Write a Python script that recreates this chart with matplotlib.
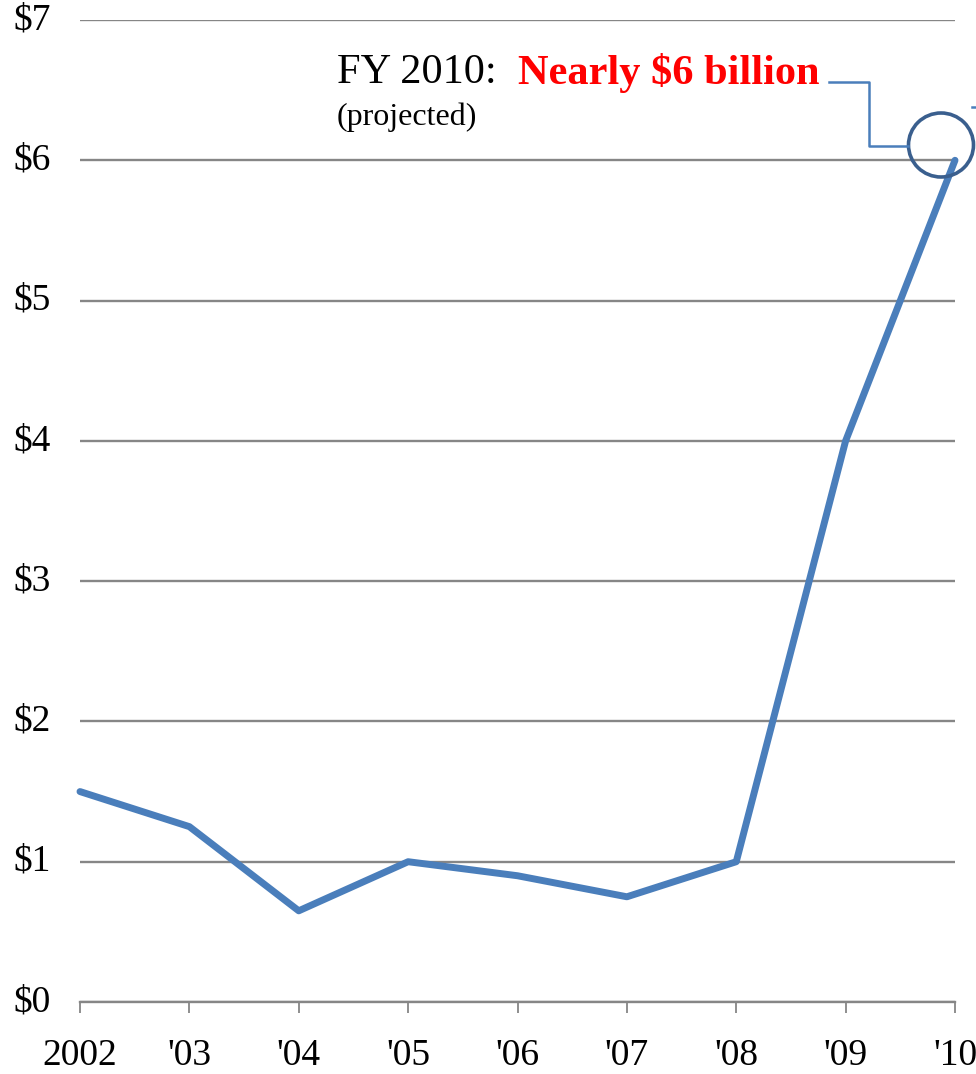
import matplotlib
matplotlib.use("Agg")
import matplotlib.pyplot as plt
from matplotlib.patches import Ellipse
from matplotlib.lines import Line2D

years = ["2002", "'03", "'04", "'05", "'06", "'07", "'08", "'09", "'10"]
values = [1.5, 1.25, 0.65, 1.0, 0.9, 0.75, 1.0, 4.0, 6.0]
ytick_vals = [0, 1, 2, 3, 4, 5, 6, 7]
ytick_labels = ["$0", "$1", "$2", "$3", "$4", "$5", "$6", "$7"]

W, H = 976, 1074
fig = plt.figure(figsize=(W / 100, H / 100), dpi=100)
plt.rcParams['font.family'] = ['Liberation Serif', 'DejaVu Serif']

def fx(x):
    return x / W

def fy(y):
    return 1 - y / H

ax = fig.add_axes([fx(80), fy(1002), fx(955) - fx(80), fy(20) - fy(1002)])
xs = list(range(len(years)))
ax.plot(xs, values, color="#4a7ebb", lw=5, solid_capstyle="round",
        solid_joinstyle="round", clip_on=False, zorder=3)
ax.set_xlim(0, len(years) - 1)
ax.set_ylim(0, 7)
ax.set_yticks(ytick_vals)
ax.set_yticklabels(ytick_labels)
ax.set_xticks(xs)
ax.set_xticklabels(years)
for s in ["top", "right", "left"]:
    ax.spines[s].set_visible(False)
ax.spines["bottom"].set_color("#868686")
ax.spines["bottom"].set_linewidth(1.7)
ax.grid(axis="y", color="#868686", lw=1.7)
ax.set_axisbelow(True)
ax.tick_params(axis="y", length=0, pad=21, labelsize=27)
ax.tick_params(axis="x", length=8, width=1.3, color="#868686", pad=18,
               labelsize=27, direction="out")
for lab in ax.get_yticklabels():
    lab.set_verticalalignment("center")

# annotation text
fig.text(fx(337), fy(73), "FY 2010:", fontsize=30.5, color="black",
         va="center", ha="left")
fig.text(fx(518), fy(73), "Nearly $6 billion", fontsize=30.5, color="#ff0000",
         fontweight="bold", va="center", ha="left")
fig.text(fx(337), fy(117), "(projected)", fontsize=23, color="black",
         va="center", ha="left")

# connector
fig.add_artist(Line2D([fx(829), fx(869), fx(869), fx(908)],
                      [fy(82), fy(82), fy(146), fy(146)],
                      color="#4a7ebb", lw=1.8, transform=fig.transFigure))
fig.add_artist(Ellipse((fx(941), fy(145)), width=65 / W, height=64 / H,
                       fill=False, edgecolor="#3a5f8e", lw=2.6,
                       transform=fig.transFigure))
fig.add_artist(Line2D([fx(972), fx(976)], [fy(107), fy(107)],
                      color="#4a7ebb", lw=1.8, transform=fig.transFigure))

fig.savefig("out.png", dpi=100)
